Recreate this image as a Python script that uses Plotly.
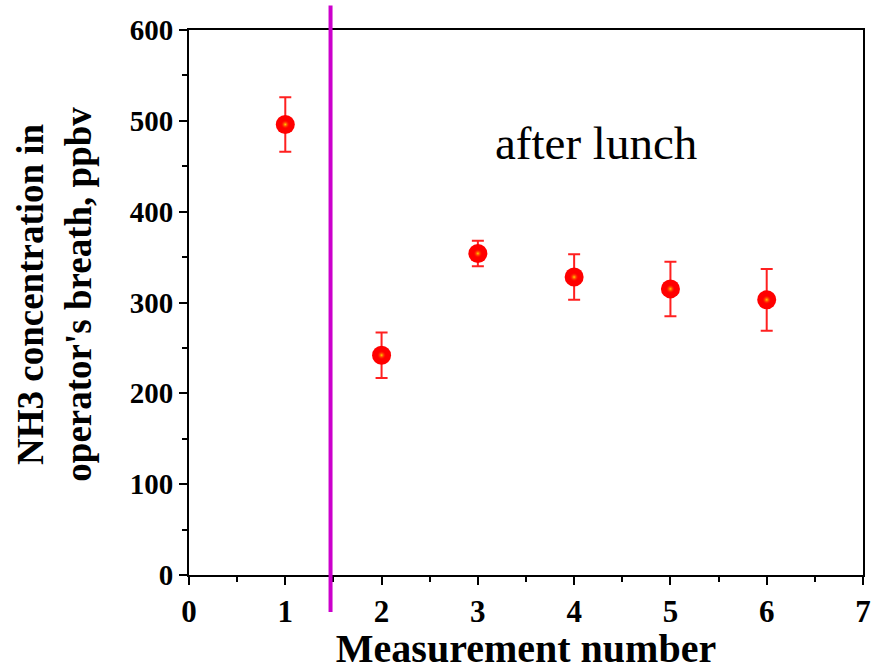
import plotly.graph_objects as go

# Breath NH3 measurements
measurement = [1, 2, 3, 4, 5, 6]
nh3_ppbv = [496, 242, 354, 328, 315, 303]
nh3_err = [30, 25, 14, 25, 30, 34]

# Position of the separator between the first and the after-lunch measurements
separator_x = 1.47

x_ticks = [0, 1, 2, 3, 4, 5, 6, 7]
y_ticks = [0, 100, 200, 300, 400, 500, 600]

FONT = "Liberation Serif, Times New Roman, serif"

fig = go.Figure()

# Main points: red spheres with error bars
fig.add_trace(go.Scatter(
    x=measurement, y=nh3_ppbv,
    mode="markers",
    marker=dict(size=19, color="#ff0000", line=dict(width=0)),
    error_y=dict(type="data", array=nh3_err, visible=True,
                 color="#ff2020", thickness=2, width=6),
    showlegend=False,
))
# Soft yellow highlight on each sphere
fig.add_trace(go.Scatter(
    x=measurement, y=nh3_ppbv,
    mode="markers",
    marker=dict(size=9, color="rgba(255,0,0,0)", line=dict(width=0),
                gradient=dict(type="radial", color="#ffd800")),
    hoverinfo="skip",
    showlegend=False,
))

# Vertical separator line
fig.add_shape(type="line", xref="x", yref="paper",
              x0=separator_x, x1=separator_x, y0=-0.068, y1=1.045,
              line=dict(color="#cc00cc", width=4), layer="above")

fig.add_annotation(x=4.23, y=476, xref="x", yref="y", text="after lunch",
                   showarrow=False, font=dict(family=FONT, size=47, color="black"))

fig.add_annotation(xref="paper", yref="paper", x=-0.199, y=0.516,
                   xanchor="center", yanchor="middle", textangle=-90,
                   text="<b>NH3 concentration in<br>operator's breath, ppbv</b>",
                   showarrow=False,
                   font=dict(family=FONT, size=37, color="black"))

axis_common = dict(
    showline=True, linecolor="black", linewidth=2, mirror=True,
    ticks="outside", ticklen=8, tickwidth=2, tickcolor="black",
    showgrid=False, zeroline=False,
)

fig.update_xaxes(
    range=[0, 7], tickvals=x_ticks,
    tickfont=dict(family=FONT, size=31, color="black", weight="bold"),
    minor=dict(ticks="outside", ticklen=5, tickwidth=2, tickcolor="black", dtick=0.5, tick0=0),
    title=dict(text="<b>Measurement number</b>", standoff=2,
               font=dict(family=FONT, size=40, color="black")),
    **axis_common,
)
fig.update_yaxes(
    range=[0, 600], tickvals=y_ticks,
    tickfont=dict(family=FONT, size=29, color="black", weight="bold"),
    minor=dict(ticks="outside", ticklen=5, tickwidth=2, tickcolor="black", dtick=50, tick0=0),
    **axis_common,
)

fig.update_layout(
    width=883, height=671,
    margin=dict(l=189, r=16, t=30, b=95),
    paper_bgcolor="white", plot_bgcolor="white",
)

fig.write_html("out.html")
